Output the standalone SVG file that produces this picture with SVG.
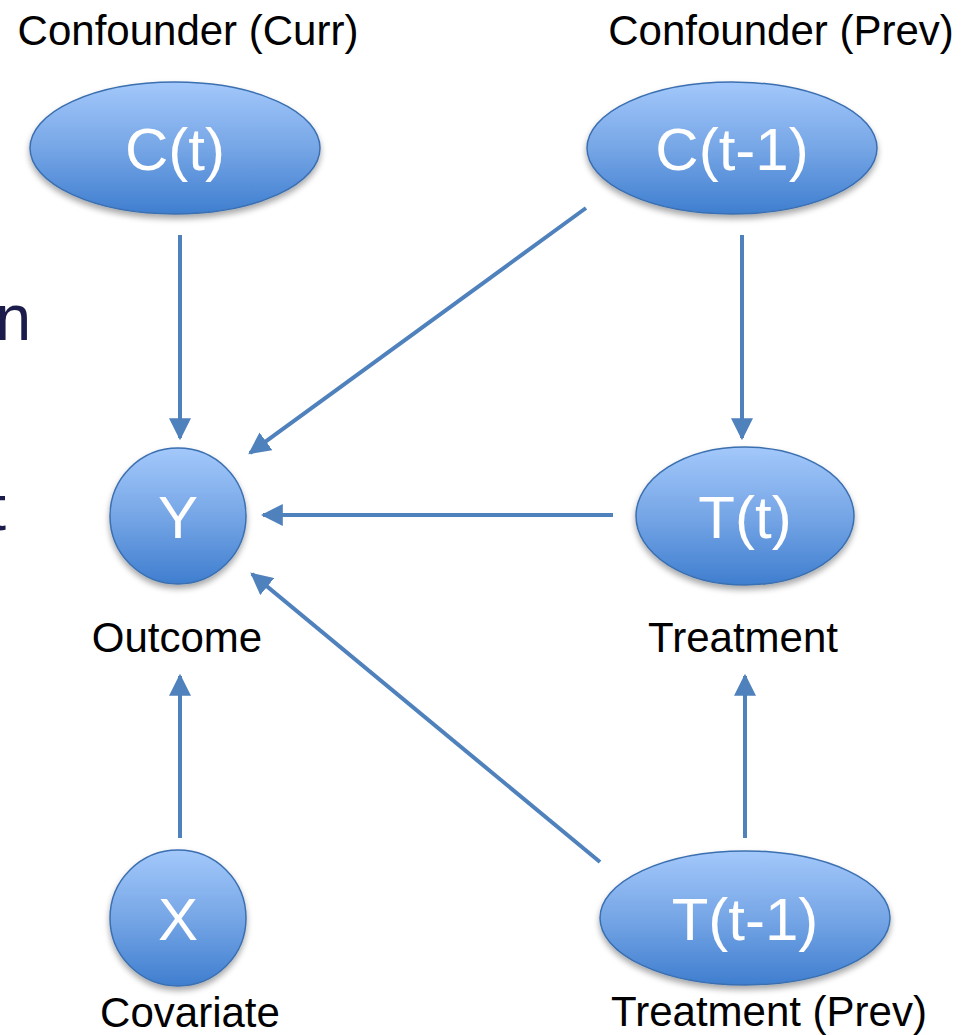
<svg xmlns="http://www.w3.org/2000/svg" width="966" height="1035" viewBox="0 0 966 1035">
<defs>
<linearGradient id="g" x1="0" y1="0" x2="0" y2="1">
<stop offset="0" stop-color="#a3c8fb"/>
<stop offset="0.5" stop-color="#76a6e6"/>
<stop offset="1" stop-color="#3f7ecf"/>
</linearGradient>
<filter id="sh" x="-20%" y="-20%" width="140%" height="150%">
<feGaussianBlur in="SourceAlpha" stdDeviation="3"/>
<feOffset dx="0" dy="4"/>
<feComponentTransfer><feFuncA type="linear" slope="0.35"/></feComponentTransfer>
<feMerge><feMergeNode/><feMergeNode in="SourceGraphic"/></feMerge>
</filter>
<marker id="ah" viewBox="0 0 10 10" refX="9" refY="5" markerWidth="5.5" markerHeight="5.5" orient="auto" markerUnits="strokeWidth">
<path d="M0,0 L10,5 L0,10 z" fill="#4f81bd"/>
</marker>
</defs>
<style>
.n{fill:url(#g);stroke:#3b6fb0;stroke-width:1.5;filter:url(#sh)}
.nt{font-family:"Gill Sans","Liberation Sans",Arial,sans-serif;font-size:60px;fill:#fff;text-anchor:middle}
.lb{font-family:"Liberation Sans",Arial,sans-serif;font-size:42px;fill:#000;text-anchor:middle}
.c{stroke:#4f81bd;stroke-width:4;fill:none;marker-end:url(#ah)}
.bg{font-family:"Liberation Sans",Arial,sans-serif;font-size:64px;fill:#1c1c4c}
</style>
<rect width="966" height="1035" fill="#fff"/>
<text class="bg" x="31" y="340" text-anchor="end">en</text>
<text class="bg" x="6" y="530" text-anchor="end">t</text>
<g id="connectors">
<line class="c" x1="180" y1="235" x2="180" y2="438"/>
<line class="c" x1="742" y1="235" x2="742" y2="438"/>
<line class="c" x1="586" y1="208" x2="250" y2="453"/>
<line class="c" x1="613" y1="515" x2="263" y2="515"/>
<line class="c" x1="600" y1="862" x2="252" y2="574"/>
<line class="c" x1="745" y1="838" x2="745" y2="676"/>
<line class="c" x1="180" y1="838" x2="180" y2="676"/>
</g>
<g id="node-ct">
<ellipse class="n" cx="175" cy="148" rx="145" ry="66"/>
<text class="nt" x="175" y="170">C(t)</text>
<text class="lb" x="188" y="45">Confounder (Curr)</text>
</g>
<g id="node-ct1">
<ellipse class="n" cx="732" cy="148" rx="145" ry="66"/>
<text class="nt" x="732" y="170">C(t-1)</text>
<text class="lb" x="781" y="45">Confounder (Prev)</text>
</g>
<g id="node-y">
<circle class="n" cx="178" cy="516" r="68"/>
<text class="nt" x="178" y="538">Y</text>
<text class="lb" x="177" y="652">Outcome</text>
</g>
<g id="node-tt">
<ellipse class="n" cx="745" cy="516" rx="109" ry="69"/>
<text class="nt" x="745" y="538">T(t)</text>
<text class="lb" x="743" y="652">Treatment</text>
</g>
<g id="node-x">
<circle class="n" cx="178" cy="918" r="68"/>
<text class="nt" x="178" y="940">X</text>
<text class="lb" x="190" y="1027">Covariate</text>
</g>
<g id="node-tt1">
<ellipse class="n" cx="745" cy="918" rx="145" ry="67"/>
<text class="nt" x="745" y="940">T(t-1)</text>
<text class="lb" x="769" y="1026">Treatment (Prev)</text>
</g>
</svg>
